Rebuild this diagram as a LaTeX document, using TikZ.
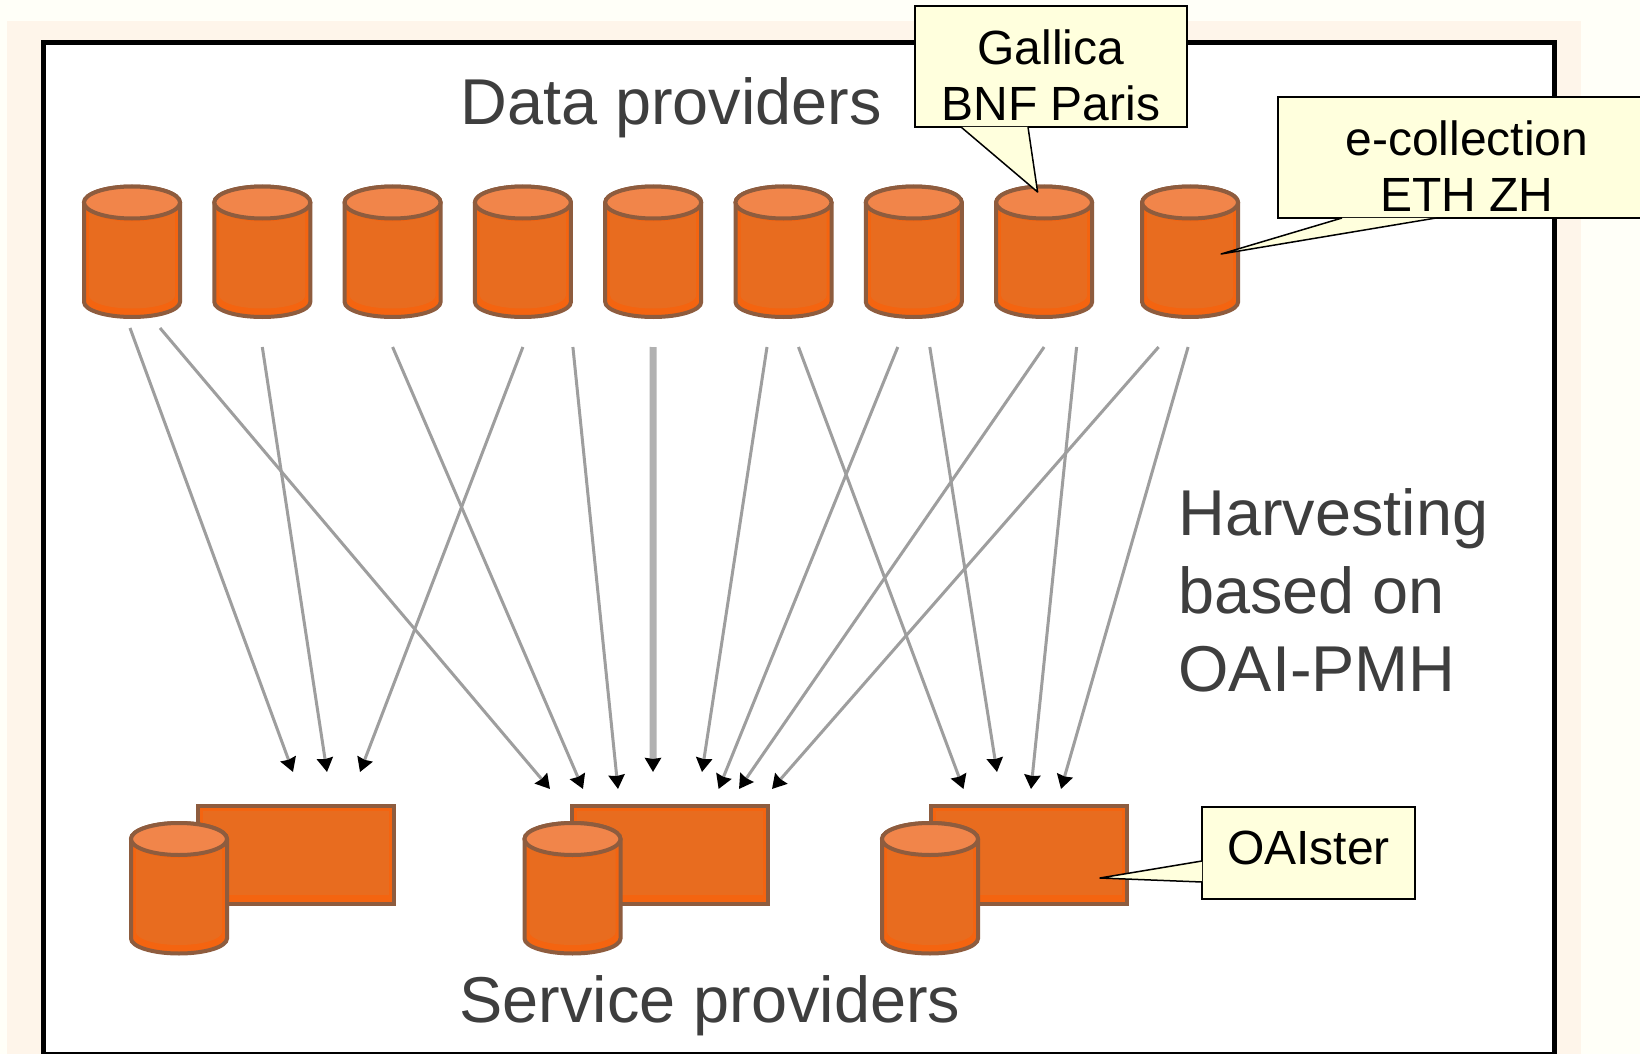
\documentclass[tikz,border=0pt]{standalone}
\usepackage{fontspec}
\setmainfont{Liberation Sans}
\usetikzlibrary{arrows.meta, positioning}
\definecolor{PageCream}{RGB}{255,255,248}
\definecolor{PanelCream}{RGB}{254,245,234}
\definecolor{DbOrange}{RGB}{232,108,31}
\definecolor{DbBright}{RGB}{244,100,16}
\definecolor{DbTop}{RGB}{241,133,74}
\definecolor{DbEdge}{RGB}{142,92,62}
\definecolor{NoteYellow}{RGB}{255,255,221}
\definecolor{ArrowGray}{RGB}{158,158,158}
\definecolor{LabelGray}{RGB}{62,62,62}
\tikzset{
  dbbox/.style={rectangle, minimum width=48pt, minimum height=65.5pt, inner sep=0pt, outer sep=0pt},
  dbedge/.style={draw=DbEdge, line width=2pt},
  harvester/.style={rectangle, dbedge, fill=DbBright,
    minimum width=98pt, minimum height=49pt, inner sep=0pt, outer sep=0pt,
    path picture={\fill[DbOrange] ([shift={(5,5)}]path picture bounding box.north west) rectangle ([shift={(-5,-9)}]path picture bounding box.south east);}},
  harvest/.style={draw=ArrowGray, line width=1.5pt, -{Stealth[black,length=7pt,width=8pt,inset=0.5pt]}},
  notebox/.style={rectangle, draw=black, fill=NoteYellow, line width=0.75pt, align=center,
    inner sep=0pt, outer sep=0pt, font=\fontsize{24}{28.25}\selectfont},
  notetail/.style={fill=NoteYellow},
  noteline/.style={line width=0.75pt, line join=round},
  caption/.style={text=LabelGray, inner sep=0pt, align=left, font=\fontsize{32.4}{39}\selectfont}
}
% named box with the drum drawn over it
\newcommand{\dbdrum}[2]{%
  \node[dbbox, #2] (#1) {};
  \draw[dbedge, fill=DbBright] ([shift={(-48,-49)}]#1.center) arc[start angle=180, end angle=0, x radius=24pt, y radius=8pt]
    -- ([shift={(48,50.5)}]#1.center) arc[start angle=360, end angle=180, x radius=24pt, y radius=7.5pt] -- cycle;
  \fill[DbOrange] ([shift={(-43,-44)}]#1.center) arc[start angle=180, end angle=360, x radius=21.5pt, y radius=7pt]
    -- ([shift={(43,44)}]#1.center) arc[start angle=360, end angle=180, x radius=21.5pt, y radius=6.5pt] -- cycle;
  \draw[dbedge, fill=DbTop] ([shift={(0,-49)}]#1.center) ellipse[x radius=24pt, y radius=8pt];
}
\begin{document}
\begin{tikzpicture}[x=0.5pt, y=-0.5pt]
\useasboundingbox (0,0) rectangle (1640,1054);
\fill[PageCream] (0,0) rectangle (1640,1054);
\fill[PanelCream] (7,21) rectangle (1581,1054);
\draw[fill=white, line width=2.5pt] (43.5,42.5) rectangle (1554,1054.5);
% data providers
\dbdrum{D1}{at={(132,251.5)}}
\dbdrum{D2}{right=17.15pt of D1}
\dbdrum{D3}{right=17.15pt of D2}
\dbdrum{D4}{right=17.15pt of D3}
\dbdrum{D5}{right=17.15pt of D4}
\dbdrum{D6}{right=17.15pt of D5}
\dbdrum{D7}{right=17.15pt of D6}
\dbdrum{D8}{right=17.15pt of D7}
\dbdrum{D9}{right=25pt of D8}
% service providers
\node[harvester] (R1) at (295.5,855) {};
\node[harvester] (R2) at (670,855) {};
\node[harvester] (R3) at (1028.5,855) {};
\dbdrum{S1}{at={(179,888)}}
\dbdrum{S2}{at={(572.5,888)}}
\dbdrum{S3}{at={(930,888)}}
% labels
\node[caption, anchor=base] (DP) at (671,125) {Data providers};
\node[caption, anchor=base] (SP) at (710,1022) {Service providers};
\node[caption, anchor=west] (HV) at (1178,590) {Harvesting\\based on\\OAI-PMH};
% harvesting arrows
\draw[harvest] ([shift={(-2,76.5)}]D1.center) -- ([shift={(-2.5,-34)}]R1.north);
\draw[harvest] ([shift={(28,76.5)}]D1.center) -- ([shift={(-120,-17)}]R2.north);
\draw[harvest] ([shift={(0,95.5)}]D2.center) -- ([shift={(31.5,-34)}]R1.north);
\draw[harvest] ([shift={(0,95.5)}]D3.center) -- ([shift={(-87,-17)}]R2.north);
\draw[harvest] ([shift={(0,95.5)}]D4.center) -- ([shift={(64.5,-34)}]R1.north);
\draw[harvest] ([shift={(50,95.5)}]D4.center) -- ([shift={(-52,-17)}]R2.north);
\draw[harvest, draw=ArrowGray!80, line width=3.5pt] ([shift={(0,95.5)}]D5.center) -- ([shift={(-17,-34)}]R2.north);
\draw[harvest] ([shift={(-16.5,95.5)}]D6.center) -- ([shift={(32,-34)}]R2.north);
\draw[harvest] ([shift={(15,95.5)}]D6.center) -- ([shift={(-65,-17)}]R3.north);
\draw[harvest] ([shift={(-16,95.5)}]D7.center) -- ([shift={(48.6,-17)}]R2.north);
\draw[harvest] ([shift={(16,95.5)}]D7.center) -- ([shift={(-31.5,-34)}]R3.north);
\draw[harvest] ([shift={(0,95.5)}]D8.center) -- ([shift={(69,-17)}]R2.north);
\draw[harvest] ([shift={(32.5,95.5)}]D8.center) -- ([shift={(2.5,-17)}]R3.north);
\draw[harvest] ([shift={(-31.5,95.5)}]D9.center) -- ([shift={(102,-17)}]R2.north);
\draw[harvest] ([shift={(-2,95.5)}]D9.center) -- ([shift={(32.5,-17)}]R3.north);
% notes
\node[notebox, minimum width=136pt, minimum height=60.5pt, text height=54.4pt] (NG) at (1051,66.5) {Gallica\\BNF Paris};
\node[notebox, minimum width=189pt, minimum height=60.5pt, text height=54.4pt] (NE) at (1467,157.5) {e-collection\\ETH ZH};
\node[notebox, minimum width=106.5pt, minimum height=46pt, text depth=5.2pt] (NO) at (1308.5,853) {OAIster};
\coordinate (TG) at ([shift={(-6.5,-59.5)}]D8.center);
\coordinate (TE) at ([shift={(31,2.5)}]D9.center);
\coordinate (TO) at ([shift={(71.5,23)}]R3.center);
\path[notetail] ([xshift=23pt]NG.south west) -- (TG) -- ([xshift=56.5pt]NG.south west) -- cycle;
\draw[noteline] ([xshift=23pt]NG.south west) -- (TG) -- ([xshift=56.5pt]NG.south west);
\path[notetail] ([xshift=32pt]NE.south west) -- (TE) -- ([xshift=79pt]NE.south west) -- cycle;
\draw[noteline] ([xshift=32pt]NE.south west) -- (TE) -- ([xshift=79pt]NE.south west);
\path[notetail] ([yshift=19pt]NO.south west) -- (TO) -- ([yshift=8.5pt]NO.south west) -- cycle;
\draw[noteline] ([yshift=19pt]NO.south west) -- (TO) -- ([yshift=8.5pt]NO.south west);
\end{tikzpicture}
\end{document}
